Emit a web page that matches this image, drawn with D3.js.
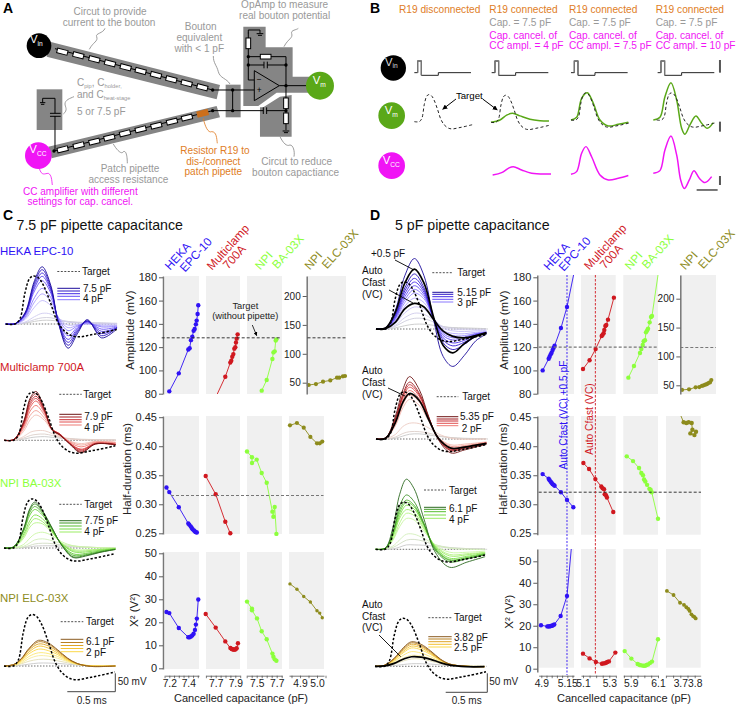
<!DOCTYPE html>
<html><head><meta charset="utf-8">
<script src="https://cdn.jsdelivr.net/npm/d3@7/dist/d3.min.js"></script>
<style>html,body{margin:0;padding:0;background:#fff}svg{display:block;font-family:"Liberation Sans",Arial,sans-serif}</style>
</head><body><div id="c"></div>
<script>
// ---------- data: dose-response dots [capacitance pF, value] ----------
const C_HEKA_AMP=[[7.2,82],[7.3,97.5],[7.4,118],[7.414,119],[7.428,126],[7.442,129],[7.456,134],[7.467,135.6],[7.48,139.6],[7.488,142.8],[7.498,148.5],[7.505,156]];
const C_HEKA_HD=[[7.17,.329],[7.2,.321],[7.3,.295],[7.4,.267],[7.41,.265],[7.425,.262],[7.435,.2595],[7.445,.257],[7.46,.255],[7.47,.253],[7.48,.252],[7.49,.2515]];
const C_HEKA_CHI=[[7.17,24.5],[7.2,24],[7.3,17.5],[7.4,13.5],[7.414,13.5],[7.428,13.8],[7.442,14.3],[7.456,15],[7.47,16.7],[7.48,19],[7.49,21.6],[7.505,29.9]];
const C_MC_AMP=[[7.69,75],[7.798,94.6],[7.849,106.7],[7.859,108.4],[7.869,111.8],[7.88,114],[7.89,118.7],[7.9,120],[7.907,124],[7.914,127.3],[7.924,131]];
const C_MC_HD=[[7.598,.3486],[7.7,.3173],[7.798,.27],[7.849,.25]];
const C_MC_CHI=[[7.598,23.6],[7.7,17.7],[7.798,11.7],[7.85,8.8],[7.863,8.4],[7.873,8.3],[7.883,8.1],[7.893,8.1],[7.903,8.3],[7.914,8.7],[7.927,10.9]];
const C_BA_AMP=[[7.55,82.6],[7.6,91.8],[7.657,109.8],[7.667,115.5],[7.68,116.4],[7.69,125.6],[7.697,126.7]];
const C_BA_HD=[[7.403,.391],[7.453,.381],[7.453,.371],[7.5,.377],[7.55,.3538],[7.6,.337],[7.657,.2873],[7.667,.2786],[7.68,.2954],[7.697,.249]];
const C_BA_CHI=[[7.403,29],[7.453,25.9],[7.453,25.2],[7.503,21.7],[7.55,16.1],[7.6,12.6],[7.657,6.4],[7.667,5],[7.68,3.9],[7.697,3.3]];
const C_ELC_AMP=[[4.841,46],[4.879,47.7],[4.916,51.7],[4.954,54],[4.989,58.7],[5.001,58.7],[5.02,61],[5.031,61.6]];
const C_ELC_HD=[[4.841,.436],[4.882,.44],[4.922,.432],[4.961,.416],[5,.405],[5.016,.405],[5.031,.408]];
const C_ELC_CHI=[[4.841,36.7],[4.882,34.4],[4.922,31.2],[4.961,28.8],[5,25],[5.016,24],[5.031,22]];
const D_HEKA_AMP=[[4.913,100],[4.971,110],[4.98,111.8],[4.99,113.8],[4.999,115.2],[5.009,117.5],[5.019,119.5],[5.028,121.3],[5.089,136.4],[5.147,154.5],[5.215,184]];
const D_HEKA_HD=[[4.913,.352],[4.971,.344],[4.98,.3416],[4.99,.339],[4.999,.337],[5.009,.3347],[5.019,.3335],[5.028,.3318],[5.089,.3208],[5.147,.3075],[5.208,.2948]];
const D_HEKA_CHI=[[4.897,20.2],[4.958,19.7],[4.97,19.7],[4.98,19.7],[4.99,19.9],[5.003,20],[5.012,20.2],[5.025,20.6],[5.086,24.5],[5.147,33.9],[5.2,62]];
const D_MC_AMP=[[5.1,101.2],[5.15,108.7],[5.196,118.4],[5.242,129.6],[5.249,130.7],[5.257,131.9],[5.262,134.7],[5.27,138.2],[5.277,139],[5.29,143.6],[5.335,162.5]];
const D_MC_HD=[[5.103,.371],[5.146,.3607],[5.194,.3434],[5.239,.3306],[5.249,.3277],[5.26,.326],[5.265,.3173],[5.275,.3156],[5.282,.3116],[5.33,.2867]];
const D_MC_CHI=[[5.1,7],[5.15,4.8],[5.198,3.1],[5.244,2.3],[5.254,2.5],[5.265,2.5],[5.275,2.8],[5.285,3.1],[5.297,3.4],[5.346,7.5]];
const D_BA_AMP=[[5.883,93.8],[5.924,103.8],[5.968,115],[5.978,118.4],[5.988,121.8],[5.995,125],[6.005,126],[6.012,132.7],[6.02,134.4],[6.027,135.9],[6.039,141.3],[6.049,145.9],[6.056,146.8],[6.11,190]];
const D_BA_HD=[[5.871,.3826],[5.917,.3744],[5.961,.3624],[5.978,.3538],[5.99,.35],[5.998,.3428],[6.007,.3393],[6.02,.3335],[6.037,.3266],[6.046,.3249],[6.054,.3208],[6.1,.2751]];
const D_BA_CHI=[[5.856,8.2],[5.905,4.7],[5.951,2.2],[5.966,1.7],[5.978,1.55],[5.993,1.4],[6.005,1.4],[6.017,1.7],[6.027,2],[6.041,2.6],[6.056,3.3],[6.1,13.7]];
const D_ELC_AMP=[[3.607,42],[3.655,43],[3.7,46.5],[3.725,47],[3.743,49],[3.755,50],[3.766,51],[3.777,52],[3.787,54],[3.798,55],[3.807,59]];
const D_ELC_HD=[[3.698,.456],[3.723,.4412],[3.742,.44],[3.758,.4412],[3.779,.44],[3.784,.4285],[3.77,.4221],[3.798,.4192],[3.809,.425]];
const D_ELC_CHI=[[3.607,36.2],[3.653,34.3],[3.698,30.7],[3.726,29.7],[3.742,28.6],[3.756,27.8],[3.765,26.9],[3.777,25.3],[3.788,24.5],[3.798,24.1],[3.807,23.4]];
const DEVICE_NAMES=[["HEKA","EPC-10"],["Multiclamp","700A"],["NPI","BA-03X"],["NPI","ELC-03X"]];
const TARGET_AMP_C=128, TARGET_HD_C=.315, TARGET_AMP_D=120, TARGET_HD_D=.3208, AUTO_D_HEKA=5.147, AUTO_D_MC=5.194;
// ---------- data: traces, time knots (ms) and voltage (mV) from light to dark ----------
const TARGET=[[0,0],[.097,0],[.149,15],[.2,84],[.247,123],[.288,131],[.34,126],[.392,106],[.462,61],[.531,11],[.6,-16],[.688,-32],[.774,-35],[.878,-30],[.983,-25],[1.156,-15]];
const T_C1=[0,.1,.2,.3,.38,.47,.55,.65,.75,.85,1,1.16];
const V_C1=[[0,0,2,7,10,10,8,6,4,3,2,1],[0,0,3,12,17,17,12,7,5,4,3,2],[0,0,5,20,29,27,14,5,3,2,2,1],[0,0,12,46,64,50,17,-3,-1,0,-2,-2],[0,1,15,60,82,62,17,-10,-3,1,-5,-4],[0,1,18,72,97,72,15,-18,-5,3,-8,-6],[0,1,22,90,118,84,10,-32,-8,5,-14,-8],[0,1,25,98,130,90,6,-42,-12,7,-20,-10],[0,1,26,105,139,95,4,-50,-16,8,-26,-10],[0,1,28,112,148,100,2,-58,-20,9,-32,-10],[0,1,30,118,156,105,2,-66,-25,12,-38,-13]];
const T_C2=[0,.1,.2,.27,.33,.42,.5,.58,.68,.8,.95,1.16];
const V_C2=[[0,0,3,7,9,10,8,6,4,2,1,1],[0,0,6,13,16,17,13,8,5,3,2,1],[0,0,10,22,26,26,18,9,4,1,1,0],[0,1,24,56,69,54,26,11,-2,-9,-3,-5],[0,1,30,68,81,60,28,13,-3,-13,-4,-6],[0,2,35,80,95,68,30,15,-5,-18,-6,-8],[0,2,40,90,107,74,30,17,-7,-24,-8,-10],[0,2,42,97,114,78,30,17,-8,-26,-9,-11],[0,2,45,103,120,80,29,16,-8,-29,-9,-12],[0,2,48,110,127,82,28,15,-9,-32,-10,-12],[0,2,50,115,133,85,28,14,-10,-34,-10,-12]];
const T_C3=[0,.1,.2,.27,.32,.4,.5,.6,.72,.85,1,1.16];
const V_C3=[[0,0,1,3,5,6,6,5,3,2,1,0],[0,0,2,7,11,13,12,8,5,3,1,0],[0,0,4,14,22,25,20,12,6,3,1,0],[0,1,9,27,38,43,34,17,6,2,1,0],[0,2,25,57,68,66,42,14,-4,-5,-3,-1],[0,2,30,66,80,72,45,12,-7,-8,-4,-2],[0,2,35,75,90,80,46,12,-10,-11,-6,-2],[0,3,42,90,105,90,50,10,-16,-15,-8,-3],[0,3,45,98,113,95,52,9,-20,-18,-10,-3],[0,3,48,104,120,99,54,8,-24,-20,-11,-4],[0,3,50,108,125,102,55,8,-26,-22,-12,-4]];
const T_C4=[0,.1,.18,.26,.36,.46,.56,.66,.76,.9,1.16];
const V_C4=[[0,0,2,5,8,8,7,5,3,1,0],[0,1,6,13,18,18,14,9,4,1,0],[0,2,8,20,28,27,21,12,5,1,0],[0,2,11,26,36,34,26,14,5,1,0],[0,3,14,33,46,42,31,16,6,0,0],[0,3,16,38,54,49,35,18,6,0,0],[0,4,18,43,60,55,39,20,7,0,0],[0,4,19,46,66,60,42,21,7,-1,0],[0,4,20,48,70,63,44,22,7,-1,0]];
const T_D1=[0,.1,.2,.3,.4,.5,.6,.7,.8,.92,1.04,1.15];
const V_D1=[[0,0,3,9,13,13,10,6,4,3,2,1],[0,0,7,21,29,28,19,7,3,1,0,0],[0,1,10,31,43,40,24,5,0,-2,-2,-2],[0,1,15,44,60,54,28,2,-5,-7,-5,-4],[0,1,22,62,84,72,30,-4,-12,-13,-9,-7],[0,2,25,72,98,82,30,-9,-18,-18,-12,-8],[0,2,28,80,108,88,30,-13,-24,-22,-13,-9],[0,2,30,88,118,94,30,-18,-30,-26,-15,-10],[0,2,34,96,128,100,29,-24,-38,-31,-16,-10],[0,2,36,104,138,106,28,-30,-46,-36,-18,-11],[0,3,40,112,150,112,28,-38,-56,-42,-20,-12],[0,3,50,145,192,145,25,-75,-102,-72,-32,-14]];
const B_D1=[[0,3,45,125,163,125,32,-45,-65,-40,-20,-12],[0,1,18,55,70,60,26,-6,-20,-24,-18,-10]];
const T_D2=[0,.1,.2,.28,.35,.45,.55,.65,.78,.92,1.15];
const V_D2=[[0,0,2,8,13,14,11,7,4,2,1],[0,0,5,15,20,20,16,9,4,1,0],[0,1,12,34,43,42,30,14,2,-1,0],[0,2,35,85,108,92,48,4,-16,-14,-8],[0,2,40,95,120,102,52,4,-20,-18,-9],[0,2,44,104,132,110,54,3,-24,-21,-10],[0,3,48,112,141,117,56,2,-28,-23,-11],[0,3,51,117,148,121,57,1,-30,-24,-12],[0,3,54,122,155,125,58,0,-32,-26,-13],[0,3,60,135,170,135,60,-2,-38,-30,-14]];
const B_D2=[[0,2,44,100,124,105,52,2,-25,-22,-12]];
const T_D3=[0,.1,.18,.25,.32,.4,.5,.62,.77,.95,1.14];
const V_D3=[[0,0,1,6,12,12,11,8,4,2,1],[0,1,5,15,25,27,22,12,5,2,0],[0,1,9,26,41,41,30,13,3,0,-1],[0,2,25,62,84,80,50,12,-8,-8,-5],[0,2,28,72,98,92,56,10,-14,-12,-8],[0,2,34,85,108,100,60,8,-18,-15,-9],[0,2,38,92,120,110,66,6,-24,-19,-11],[0,3,42,100,128,116,68,3,-28,-22,-12],[0,3,44,108,134,120,70,1,-30,-24,-14],[0,3,48,118,148,130,72,-2,-34,-26,-15],[0,3,60,150,191,165,85,-8,-49,-35,-20]];
const T_D4=[0,.1,.2,.3,.38,.48,.58,.68,.78,.95,1.14];
const V_D4=[[0,0,2,5,7,7,6,4,2,1,0],[0,1,6,15,20,20,14,8,3,0,0],[0,2,10,23,30,28,21,11,4,1,0],[0,2,13,31,40,36,26,13,5,0,-1],[0,2,16,38,50,45,32,16,5,0,-1],[0,3,18,42,55,50,35,17,5,0,-1],[0,3,20,46,60,54,38,18,6,0,-1],[0,3,21,49,64,57,40,19,6,0,-1],[0,3,22,52,67,60,42,20,6,0,-1]];
const B_D4=[[0,1,8,20,26,25,19,10,3,-1,-1]];
// panel B traces [ms, mV]
const B_G2=[[0,0],[.18,11],[.313,35],[.433,44],[.58,31],[.78,15],[.98,8],[1.16,6]];
const B_P2=[[0,-3],[.18,8],[.313,29],[.413,37],[.58,21],[.78,5],[1.167,2]];
const B_G3=[[0,0],[.113,13],[.213,105],[.327,132],[.447,81],[.58,0],[.747,-29],[.947,-21],[1.147,-11]];
const B_P3=[[0,0],[.113,13],[.213,102],[.3,134],[.413,85],[.58,-3],[.747,-27],[.947,-19],[1.147,-6]];
const B_G4=[[0,0],[.133,13],[.233,113],[.353,180],[.467,97],[.567,-40],[.633,-69],[.733,-24],[.853,19],[.967,-16],[1.08,-40],[1.2,-13]];
const B_P4=[[0,0],[.133,13],[.233,113],[.353,180],[.467,89],[.547,-32],[.62,-74],[.72,-32],[.813,13],[.92,-24],[1.033,-45],[1.167,-16]];
const COL_HEAD=[["R19 disconnected"],["R19 connected","Cap. = 7.5 pF","Cap. cancel. of","CC ampl. = 4 pF"],["R19 connected","Cap. = 7.5 pF","Cap. cancel. of","CC ampl. = 7.5 pF"],["R19 connected","Cap. = 7.5 pF","Cap. cancel. of","CC ampl. = 10 pF"]];

// ---------- colours ----------
const BLUE="#2f12f5",RED="#d0181f",LIME="#8cff3c",OLIVE="#8d8b1c",GRAY="#999",ORANGE="#e07d25",MAG="#f014f5",GREEN="#5aa818";
const RAMP_B=["#c8c8c8","#dcd8ff","#8a78ff","#3a1cf0","#1c0c9c"],RAMP_R=["#c8c8c8","#f8dcd0","#f07a70","#d8202a","#6e1414"],RAMP_G=["#c8c8c8","#e0ffc0","#9cf05c","#50c828","#2c6a20"],RAMP_O=["#c8c8c8","#fff8a8","#ffdc3c","#eaa820","#8a5a20"];

const W=738,H=705;
const svg=d3.select("#c").append("svg").attr("width",W).attr("height",H).attr("viewBox",[0,0,W,H]);
const defs=svg.append("defs");
function txt(g,x,y,s,o={}){const t=g.append("text").attr("x",x).attr("y",y).attr("dy",".35em").attr("font-size",o.size||11).attr("fill",o.fill||"#222").attr("text-anchor",o.anchor||"start").text(s);
 if(o.weight)t.attr("font-weight",o.weight);if(o.rotate!=null)t.attr("transform",`rotate(${o.rotate} ${x} ${y})`);return t;}
function subtxt(g,x,y,parts,o={}){const t=g.append("text").attr("x",x).attr("y",y).attr("dy",".35em").attr("font-size",parts[0][1]).attr("fill",o.fill||GRAY).attr("text-anchor",o.anchor||"start");
 parts.forEach(p=>t.append("tspan").attr("font-size",p[1]).attr("dy",p[2]||0).text(p[0]));return t;}
function seg(g,x1,y1,x2,y2,c="#000",w=1,dash){const l=g.append("line").attr("x1",x1).attr("y1",y1).attr("x2",x2).attr("y2",y2).attr("stroke",c).attr("stroke-width",w);if(dash)l.attr("stroke-dasharray",dash);return l;}
defs.append("marker").attr("id","ah").attr("viewBox","0 0 6 6").attr("refX",5.5).attr("refY",3).attr("markerWidth",5).attr("markerHeight",5).attr("orient","auto").append("path").attr("d","M0,0L6,3L0,6z").attr("fill","#000");

// ---------- Panel A (drawn at 3x units) ----------
const A=svg.append("g").attr("transform","scale(0.3333)");
txt(svg,3,8,"A",{size:14,weight:"bold",fill:"#000"});
const poly=(g,pts,f)=>g.append("polygon").attr("points",pts.join(" ")).attr("fill",f);
poly(A,[[150,125],[660,255],[650,298],[140,170]],"#858585");
poly(A,[[145,440],[650,318],[660,352],[155,475]],"#858585");
A.append("rect").attr("x",110).attr("y",268).attr("width",77).attr("height",122).attr("fill","#858585");
A.append("rect").attr("x",677).attr("y",254).attr("width",45).attr("height",98).attr("fill","#858585");
poly(A,[[730,80],[797,80],[797,142],[878,142],[878,230],[930,230],[930,278],[830,278],[775,318],[730,318]],"#858585");
poly(A,[[780,410],[875,410],[875,285],[840,290],[790,322],[780,322]],"#858585");
const RTOP=[[187,155],[235,166],[283,178],[330,190],[377,202],[422,213],[468,225],[514,238],[560,250],[607,262]];
const RBOT=[[188,448],[236,436],[283,425],[328,413],[375,400],[422,388],[469,377],[516,365],[561,353]];
const res=(g,c,rot,f="#fff",w=32,h=14)=>g.append("rect").attr("x",c[0]-w/2).attr("y",c[1]-h/2).attr("width",w).attr("height",h).attr("fill",f).attr("stroke",f=="#fff"?"#000":f).attr("stroke-width",3).attr("transform",`rotate(${rot} ${c[0]} ${c[1]})`);
const wire=(pts,w=3)=>A.append("polyline").attr("points",pts.join(" ")).attr("fill","none").attr("stroke","#000").attr("stroke-width",w);
wire([[165,146],[638,270],[763,270]]);
wire([[162,453],[638,332],[790,332]]);wire([[800,332],[858,332]]);
wire([[698,270],[698,332]]);
RTOP.forEach(c=>res(A,c,14.5));RBOT.forEach(c=>res(A,c,-14));res(A,[608,340],-14,"#cc6f1c",32,16);
wire([[165,453],[165,348]]);wire([[165,340],[165,295],[128,295],[128,308]]);
wire([[150,340],[182,340]]);wire([[150,349],[182,349]]);
wire([[120,308],[136,308]]);wire([[123,313],[133,313]]);
wire([[838,257],[920,257]]);wire([[858,170],[858,390]]);
wire([[745,98],[745,240],[763,240]]);wire([[745,90],[780,90],[780,100]]);wire([[745,90],[745,100]]);
wire([[770,101],[790,101]]);wire([[774,106],[786,106]]);
wire([[745,170],[858,170]]);wire([[745,195],[792,195]]);wire([[802,195],[858,195]]);
wire([[792,185],[792,205]]);wire([[802,185],[802,205]]);
wire([[790,322],[790,342]]);wire([[800,322],[800,342]]);
wire([[848,393],[868,393]]);wire([[852,398],[864,398]]);
A.append("polygon").attr("points","763,212 763,302 838,257").attr("fill","#858585").attr("stroke","#000").attr("stroke-width",3);
txt(A,778,238,"−",{size:25,anchor:"middle",fill:"#000"});txt(A,778,270,"+",{size:25,anchor:"middle",fill:"#000"});
res(A,[745,130],90);res(A,[797,170],0);res(A,[858,310],90);res(A,[858,355],90);
[[638,270],[698,270],[638,332],[698,332],[162,453],[745,170],[745,195],[858,195],[858,257],[858,332]].forEach(c=>A.append("circle").attr("cx",c[0]).attr("cy",c[1]).attr("r",5).attr("fill","#000"));
const disc=(g,x,y,r,f)=>g.append("circle").attr("cx",x).attr("cy",y).attr("r",r).attr("fill",f);
disc(A,117,137,37,"#000");disc(A,115,467,40,MAG);disc(A,960,257,42,GREEN);
subtxt(A,90,130,[["V",34],["in",20,8]],{fill:"#fff"});subtxt(A,88,460,[["V",34],["CC",20,8]],{fill:"#fff"});subtxt(A,938,252,[["V",34],["m",20,8]],{fill:"#fff"});
const squig=(d,c="#888")=>A.append("path").attr("d",d).attr("fill","none").attr("stroke",c).attr("stroke-width",2.5);
squig("M268,148C280,125 295,125 290,110C285,100 310,100 315,85");
squig("M852,140C865,115 880,115 875,100C872,90 890,90 895,85");
squig("M690,252C680,235 660,235 655,215C650,195 640,190 640,168");
squig("M190,342C205,330 195,320 195,312C195,300 210,295 222,290");
squig("M340,432C350,450 365,465 370,455C380,450 382,475 382,490");
squig("M840,410C850,430 860,440 870,435C880,435 885,455 882,470");
squig("M610,355C615,380 625,400 635,395C650,395 650,415 652,430",ORANGE);
squig("M118,505C125,530 135,520 145,520C155,525 155,540 157,555",MAG);
const AT=[["Circut to provide",330,35,GRAY],["current to the bouton",327,66,GRAY],["OpAmp to measure",854,14,GRAY],["real bouton potential",854,47,GRAY],["Bouton",602,80,GRAY],["equivalent",598,112,GRAY],["with < 1 pF",598,144,GRAY],["Patch pipette",390,505,GRAY],["access resistance",385,537,GRAY],["Resistor R19 to",645,450,ORANGE],["dis-/connect",640,483,ORANGE],["patch pipette",640,515,ORANGE],["Circut to reduce",890,485,GRAY],["bouton capactiance",887,517,GRAY],["CC amplifier with different",241,575,MAG],["settings for cap. cancel.",241,605,MAG]];
AT.forEach(a=>txt(A,a[1],a[2],a[0],{size:30.2,fill:a[3],anchor:"middle"}));
subtxt(A,231,258,[["C",30],["pip",17,7],[", ",30,-7],["C",30],["holder",17,7],[",",17]]);
subtxt(A,231,293,[["and C",30],["heat-stage",17,7]]);
txt(A,231,335,"5 or 7.5 pF",{size:30.2,fill:GRAY});

// ---------- Panel B (3x units, offset to x=370) ----------
const B=svg.append("g").attr("transform","translate(370,0) scale(0.3333)");
txt(svg,370,8,"B",{size:14,weight:"bold",fill:"#000"});
const HX=[87,358,597,857],HY=[28,67,105,135],HC=[ORANGE,GRAY,MAG,MAG];
COL_HEAD.forEach((c,i)=>c.forEach((s,j)=>txt(B,HX[i],HY[j],s,{size:30.5,fill:HC[j]})));
disc(B,70,204,38,"#000");disc(B,65,347,40,GREEN);disc(B,65,497,40,MAG);
subtxt(B,45,197,[["V",34],["in",20,8]],{fill:"#ddd"});subtxt(B,44,342,[["V",34],["m",20,8]],{fill:"#fff"});subtxt(B,38,492,[["V",34],["CC",20,8]],{fill:"#fff"});
const VX=[0,232,470,730];
VX.forEach(dx=>{B.append("polyline").attr("points",[[133,218],[143,218],[143,183],[154,183],[154,226],[205,226],[205,218],[303,218]].map(p=>[p[0]+dx,p[1]]).join(" ")).attr("fill","none").attr("stroke","#222").attr("stroke-width",3);
 B.append("polyline").attr("points",[[143,218],[143,183],[154,183],[154,226]].map(p=>[p[0]+dx,p[1]]).join(" ")).attr("fill","none").attr("stroke","#777").attr("stroke-width",4);});
const tr=(g,d,x0,base,px,py,c,w,dash)=>{const x=d3.scaleLinear([0,1],[x0,x0+px]),y=d3.scaleLinear([0,1],[base,base-py]);
 const p=g.append("path").datum(d).attr("d",d3.line().x(v=>x(v[0])).y(v=>y(v[1])).curve(d3.curveCatmullRom.alpha(.5))).attr("fill","none").attr("stroke",c).attr("stroke-width",w);if(dash)p.attr("stroke-dasharray",dash);return p;};
tr(B,B_G2,363,367,150,.62,GREEN,4.5);tr(B,B_G3,603,360,150,.62,GREEN,4.5);tr(B,B_G4,850,360,150,.62,GREEN,4.5);
[[133,365],[363,367],[603,360],[860,360]].forEach(a=>tr(B,TARGET,a[0],a[1],150,.62,"#222",3,"9,7"));
tr(B,B_P2,368,523,150,.62,MAG,4.5);tr(B,B_P3,603,523,150,.62,MAG,4.5);tr(B,B_P4,850,520,150,.62,MAG,4.5);
txt(B,298,287,"Target",{size:29,anchor:"middle",fill:"#000"});
seg(B,258,297,218,328,"#000",3).attr("marker-end","url(#ah)");seg(B,338,297,382,330,"#000",3).attr("marker-end","url(#ah)");
seg(B,1050,180,1050,218,"#555",6);seg(B,1050,365,1050,395,"#555",6);seg(B,1050,528,1050,555,"#555",6);seg(B,980,570,1043,570,"#333",4);

// ---------- Headings ----------
txt(svg,3,215,"C",{size:14,weight:"bold",fill:"#000"});txt(svg,16.5,225.5,"7.5 pF pipette capacitance",{size:14.2,fill:"#111"});
txt(svg,370,215,"D",{size:14,weight:"bold",fill:"#000"});txt(svg,395,225.5,"5 pF pipette capacitance",{size:14.2,fill:"#111"});

// ---------- trace panels ----------
function traces(o){
 const g=svg.append("g");const x=d3.scaleLinear([0,1.16],[o.x0,o.x0+1.16*96]),y=d3.scaleLinear([0,100],[o.base,o.base-36.7]);
 const line=d3.line().x(d=>x(d[0])).y(d=>y(d[1])).curve(d3.curveCatmullRom.alpha(.5));
 const ramp=d3.interpolateRgbBasis(o.ramp),n=o.vals.length;
 seg(g,x(0),y(0),x(1.16),y(0),"#333",.7,"1.5,1.5");
 o.vals.forEach((v,i)=>g.append("path").datum(v.map((m,k)=>[o.T[k],m])).attr("d",line).attr("fill","none").attr("stroke",ramp(i/(n-1))).attr("stroke-width",.9));
 (o.black||[]).forEach(v=>g.append("path").datum(v.map((m,k)=>[o.T[k],m])).attr("d",line).attr("fill","none").attr("stroke","#000").attr("stroke-width",1.7));
 g.append("path").datum(TARGET.map(d=>[d[0],d[1]*(o.gain||1)])).attr("d",line).attr("fill","none").attr("stroke","#000").attr("stroke-width",1.5).attr("stroke-dasharray","2.4,1.8");
 // legend
 seg(g,o.lx0,o.ty,o.lx1,o.ty,"#222",.8,"2,1.5");txt(g,o.ttx,o.ty,"Target",{size:10,fill:"#111"});
 o.ly.forEach((ly,i)=>seg(g,o.lx0,ly,o.lx1,ly,ramp(1-i/(o.ly.length+1)*.75),1));
 txt(g,o.vx,o.v1y,o.v1,{size:10,fill:"#111"});txt(g,o.vx2||o.vx,o.v2y,o.v2,{size:10,fill:"#111"});
}
traces({x0:5.7,base:324,T:T_C1,vals:V_C1,ramp:RAMP_B,lx0:57.3,lx1:80,ty:271.5,ttx:82,ly:[288.3,291,293.7,296.3,299.7],vx:83,v1:"7.5 pF",v1y:288,v2:"4 pF",v2y:298});
traces({x0:4.3,base:440.3,T:T_C2,vals:V_C2,ramp:RAMP_R,lx0:59.3,lx1:81.7,ty:394.3,ttx:83.3,ly:[414.3,417,419.7,422,425],vx:84.3,v1:"7.9 pF",v1y:416.7,v2:"4 pF",v2y:427});
traces({x0:4,base:548,T:T_C3,vals:V_C3,ramp:RAMP_G,lx0:59.3,lx1:81.7,ty:504.3,ttx:84.3,ly:[520.7,523,526,529,532],vx:84.3,v1:"7.75 pF",v1y:520.7,v2:"4 pF",v2y:531,gain:1.02});
traces({x0:4,base:666,T:T_C4,vals:V_C4,ramp:RAMP_O,lx0:60.7,lx1:83.3,ty:621.7,ttx:86,ly:[639.3,642.5,645.5,648.5,651.7],vx:86,v1:"6.1 pF",v1y:641.7,v2:"2 pF",v2y:652.3,gain:1.07});
traces({x0:376,base:329,T:T_D1,vals:V_D1,black:B_D1,ramp:RAMP_B,lx0:432.3,lx1:453.3,ty:272.7,ttx:457.3,ly:[292.3,294.3,296.7,299.3,302],vx:457.3,v1:"5.15 pF",v1y:292.3,v2:"3 pF",v2y:302,gain:.98});
traces({x0:376,base:439,T:T_D2,vals:V_D2,black:B_D2,ramp:RAMP_R,lx0:436.7,lx1:458.3,ty:396.7,ttx:462.3,ly:[416.7,419,421,423.3,425.7],vx:460,vx2:461.7,v1:"5.35 pF",v1y:416.7,v2:"2 pF",v2y:428.3,gain:.98});
traces({x0:375.7,base:549.3,T:T_D3,vals:V_D3,ramp:RAMP_G,lx0:424,lx1:446,ty:490,ttx:449,ly:[507.3,509.3,511.7,515,518.3],vx:449,v1:"6.1 pF",v1y:508.3,v2:"4 pF",v2y:519.3,gain:.98});
traces({x0:375,base:666.3,T:T_D4,vals:V_D4,black:B_D4,ramp:RAMP_O,lx0:428.3,lx1:451.7,ty:617.7,ttx:454,ly:[636.7,639,641.7,644.3,647],vx:454,v1:"3.82 pF",v1y:637.7,v2:"2.5 pF",v2y:647.7});
// annotations on traces
txt(svg,371,253.3,"+0.5 pF",{size:10,fill:"#111"});seg(svg,395,260,414,270,"#000",.9);
[[270.7,282.7,294.3],[370.7,382.7,394.3],[604,616,627.7]].forEach(r=>{["Auto","Cfast","(VC)"].forEach((s,i)=>txt(svg,362,r[i],s,{size:10,fill:"#111"}));});
seg(svg,389,290,413,303,"#000",.9);seg(svg,388,388,405,396,"#000",.9);seg(svg,379,635,400.7,656.7,"#000",.9);
// scale bars
seg(svg,67.3,691.7,115.3,691.7,"#444",1);seg(svg,115.3,673.3,115.3,691.7,"#444",1);txt(svg,117.7,681.7,"50 mV",{size:10});txt(svg,91.7,700,"0.5 ms",{size:10,anchor:"middle"});
seg(svg,445.7,692.3,487.3,692.3,"#444",1);seg(svg,487.3,673.3,487.3,692.3,"#444",1);txt(svg,489.3,681.7,"50 mV",{size:10});txt(svg,466.7,700.5,"0.5 ms",{size:10,anchor:"middle"});

// ---------- dot panels ----------
let cid=0;
function dots(o){
 const g=svg.append("g"),[rx0,rx1]=o.rx,[ry0,ry1]=o.ry;
 g.append("rect").attr("x",rx0).attr("y",ry0).attr("width",rx1-rx0).attr("height",ry1-ry0).attr("fill","#f0f0f0");
 const x=d3.scaleLinear(o.xd,o.xr),y=d3.scaleLinear(o.yd,o.yr);const id="cl"+(cid++);
 defs.append("clipPath").attr("id",id).append("rect").attr("x",rx0-3).attr("y",ry0).attr("width",rx1-rx0+6).attr("height",ry1-ry0);
 g.append("path").datum(o.pts).attr("d",d3.line().x(d=>x(d[0])).y(d=>y(d[1]))).attr("fill","none").attr("stroke",o.color).attr("stroke-width",.9).attr("clip-path",`url(#${id})`);
 g.selectAll("circle").data(o.pts.filter(d=>y(d[1])>=ry0-1&&y(d[1])<=ry1+1)).join("circle").attr("cx",d=>x(d[0])).attr("cy",d=>y(d[1])).attr("r",o.r||2.1).attr("fill",o.color);
 return o;
}
function yAxis(ax,x,yd,yr,ry,ticks,fmt,size,col){
 const y=d3.scaleLinear(yd,yr);const full=y.copy().domain([y.invert(ry[1]),y.invert(ry[0])]).range([ry[1],ry[0]]);
 const g=svg.append("g").attr("transform",`translate(${x},0)`).call(d3.axisLeft(full).tickValues(ticks).tickFormat(fmt).tickSize(4).tickPadding(2).tickSizeOuter(0));
 g.select(".domain").attr("stroke","#777").attr("stroke-width",1.5);g.selectAll(".tick line").attr("stroke","#333").attr("stroke-width",.8);
 g.selectAll("text").attr("font-size",size).attr("font-family","inherit").attr("fill","#222");
}
function xAxis(rx,xd,xr,major,minor,y0){
 const x=d3.scaleLinear(xd,xr);const full=x.copy().domain([x.invert(rx[0]),x.invert(rx[1])]).range(rx);
 const g=svg.append("g").attr("transform",`translate(0,${y0})`).call(d3.axisBottom(full).tickValues(minor.concat(major)).tickFormat(v=>major.includes(v)?(v==5.15?"5.15":v.toFixed(1)):"").tickSize(2.5).tickPadding(1.5).tickSizeOuter(0));
 g.select(".domain").attr("stroke","#777").attr("stroke-width",1);g.selectAll(".tick line").attr("stroke","#444").attr("stroke-width",.7);
 g.selectAll("text").attr("font-size",10.3).attr("font-family","inherit").attr("fill","#222");
}
const AMP_Y=[[80,180],[393.7,277.3]],CHI_C=[[0,50],[668.3,553.3]],CHI_D=[[0,50],[668.7,561.3]],HD_Y=[[.25,.45],[533.3,417.2]];
const CC=[
 {c:BLUE,xd:[7.2,7.4],xr:[169.3,188.3],rx:[165,199],a:C_HEKA_AMP,h:C_HEKA_HD,k:C_HEKA_CHI,maj:[7.2,7.4],min:[7.15,7.25,7.3,7.35,7.45,7.5]},
 {c:RED,xd:[7.7,7.9],xr:[215.7,235.3],rx:[206,240],a:C_MC_AMP,h:C_MC_HD,k:C_MC_CHI,maj:[7.7,7.9],min:[7.6,7.65,7.75,7.8,7.85,7.95]},
 {c:LIME,xd:[7.5,7.7],xr:[256.7,276.7],rx:[247,282],a:C_BA_AMP,h:C_BA_HD,k:C_BA_CHI,maj:[7.5,7.7],min:[7.4,7.45,7.55,7.6,7.65,7.75]},
 {c:OLIVE,xd:[4.9,5.0],xr:[300,317],rx:[289,324],h:C_ELC_HD,k:C_ELC_CHI,maj:[4.9,5.0],min:[4.85,4.95,5.05]}];
CC.forEach((d,i)=>{
 if(i<3)dots({rx:d.rx,ry:[276,394],xd:d.xd,xr:d.xr,yd:AMP_Y[0],yr:AMP_Y[1],pts:d.a,color:d.c,r:2.2});
 dots({rx:d.rx,ry:[416,534],xd:d.xd,xr:d.xr,yd:HD_Y[0],yr:HD_Y[1],pts:d.h,color:d.c,r:i==3?2.1:2.2});
 dots({rx:d.rx,ry:[552,669],xd:d.xd,xr:d.xr,yd:CHI_C[0],yr:CHI_C[1],pts:d.k,color:d.c,r:i==3?1.7:2.2});
 xAxis(d.rx,d.xd,d.xr,d.maj,d.min,675.7);
});
dots({rx:[307.5,346],ry:[276,394],xd:[4.841,5.031],xr:[308.7,345],yd:[50,200],yr:[382.7,296],pts:C_ELC_AMP,color:OLIVE,r:2.1});
yAxis(0,163,AMP_Y[0],AMP_Y[1],[276,394],[80,100,120,140,160,180],d3.format("d"),11);
yAxis(0,163,HD_Y[0],HD_Y[1],[416,534],[.25,.3,.35,.4,.45],d3.format(".2f"),11);
yAxis(0,163,CHI_C[0],CHI_C[1],[552,669],[0,10,20,30,40,50],d3.format("d"),11);
yAxis(0,306.7,[50,200],[382.7,296],[276,394],[50,100,150,200],d3.format("d"),10);
const tg=svg.append("g");
const cy=d3.scaleLinear(AMP_Y[0],AMP_Y[1]),ch=d3.scaleLinear(HD_Y[0],HD_Y[1]);
seg(tg,161.7,cy(TARGET_AMP_C),281.7,cy(TARGET_AMP_C),"#222",.9,"3,2");seg(tg,307.5,cy(TARGET_AMP_C),346,cy(TARGET_AMP_C),"#222",.9,"3,2");
seg(tg,171,ch(TARGET_HD_C),323.5,ch(TARGET_HD_C),"#777",1.1,"3,2");
txt(tg,245.3,305.7,"Target",{size:9.3,anchor:"middle"});txt(tg,245.3,316,"(without pipette)",{size:9.3,anchor:"middle"});
seg(tg,252.3,325,256.7,335.7,"#000",.8).attr("marker-end","url(#ah)");

const DD=[
 {c:BLUE,xd:[4.9,5.15],xr:[541.3,567.3],rx:[538.7,574],a:D_HEKA_AMP,h:D_HEKA_HD,k:D_HEKA_CHI,maj:[4.9,5.15],min:[4.95,5,5.05,5.1,5.2]},
 {c:RED,xd:[5.1,5.3],xr:[583,609.3],rx:[581,615.7],a:D_MC_AMP,h:D_MC_HD,k:D_MC_CHI,maj:[5.1,5.3],min:[5.15,5.2,5.25,5.35]},
 {c:LIME,xd:[5.9,6.1],xr:[630.7,658],rx:[623.3,658],a:D_BA_AMP,h:D_BA_HD,k:D_BA_CHI,maj:[5.9,6.1],min:[5.85,5.95,6,6.05]},
 {c:OLIVE,xd:[3.7,3.8],xr:[680.3,694.7],rx:[666,700.7],h:D_ELC_HD,k:D_ELC_CHI,maj:[3.7,3.8],min:[3.6,3.65,3.75]}];
DD.forEach((d,i)=>{
 if(i<3)dots({rx:d.rx,ry:[275,394],xd:d.xd,xr:d.xr,yd:AMP_Y[0],yr:AMP_Y[1],pts:d.a,color:d.c,r:2.2});
 dots({rx:d.rx,ry:[416,534.7],xd:d.xd,xr:d.xr,yd:HD_Y[0],yr:HD_Y[1],pts:d.h,color:d.c,r:2.2});
 dots({rx:d.rx,ry:[549,667.7],xd:d.xd,xr:d.xr,yd:CHI_D[0],yr:CHI_D[1],pts:d.k,color:d.c,r:i==3?1.9:2.2});
 xAxis(d.rx,d.xd,d.xr,d.maj,d.min,675.7);
});
dots({rx:[680.3,716],ry:[275,394],xd:[3.607,3.807],xr:[682,711.3],yd:[50,200],yr:[385.3,298.7],pts:D_ELC_AMP,color:OLIVE,r:2.1});
yAxis(0,537.3,AMP_Y[0],AMP_Y[1],[275,394],[80,100,120,140,160,180],d3.format("d"),11);
yAxis(0,537.3,HD_Y[0],HD_Y[1],[416,534.7],[.25,.3,.35,.4,.45],d3.format(".2f"),11);
yAxis(0,537.3,CHI_D[0],CHI_D[1],[549,672],[0,10,20,30,40,50],d3.format("d"),11);
yAxis(0,680.3,[50,200],[385.3,298.7],[275,394],[50,100,150,200],d3.format("d"),10);
const tg2=svg.append("g");
seg(tg2,538.7,cy(TARGET_AMP_D),658,cy(TARGET_AMP_D),"#777",1.1,"3,2");seg(tg2,680.3,cy(TARGET_AMP_D)+.3,716,cy(TARGET_AMP_D)+.3,"#777",1.1,"3,2");
seg(tg2,538.7,ch(TARGET_HD_D),701,ch(TARGET_HD_D),"#222",.9,"3,2");
const dxh=d3.scaleLinear(DD[0].xd,DD[0].xr),dxm=d3.scaleLinear(DD[1].xd,DD[1].xr);
seg(tg2,dxh(AUTO_D_HEKA),275,dxh(AUTO_D_HEKA),675,BLUE,.9,"2,1.5");seg(tg2,dxm(AUTO_D_MC),275,dxm(AUTO_D_MC),675,RED,.9,"2.5,1.5");
txt(tg2,563,415,"Auto Cfast (VC) +0.5 pF",{size:10.2,fill:BLUE,rotate:-90,anchor:"middle"});
txt(tg2,589.5,419,"Auto Cfast (VC)",{size:10.2,fill:RED,rotate:-90,anchor:"middle"});

// axis titles
[[129.5,330,"Amplitude (mV)"],[127,469,"Half-duration (ms)"],[134,610,"Χ² (V²)"],[504,330,"Amplitude (mV)"],[503,469,"Half-duration (ms)"],[509,611.7,"Χ² (V²)"]].forEach(a=>txt(svg,a[0],a[1],a[2],{size:11.5,rotate:-90,anchor:"middle"}));
txt(svg,241,698,"Cancelled capacitance (pF)",{size:11,anchor:"middle"});txt(svg,624,698,"Cancelled capacitance (pF)",{size:11,anchor:"middle"});

// device titles
const names=[[0,251,"HEKA EPC-10",BLUE],[0,367.3,"Multiclamp 700A",RED],[0,483.3,"NPI BA-03X",LIME],[0,598.3,"NPI ELC-03X",OLIVE]];
names.forEach(n=>txt(svg,n[0],n[1],n[2],{size:11.4,fill:n[3]}));
const ROT=[[[167,268],[182,270]],[[209,268],[225,267]],[[257.3,267.7],[274.3,266.7]],[[306.7,267.7],[324,266.7]]];
const ROTD=[[[545.7,268.3],[560.7,269.3]],[[586.3,267.7],[602,266.7]],[[627,267.7],[644,266.7]],[[682.3,267.7],[700.3,266.7]]];
const DC=[BLUE,RED,LIME,OLIVE];
[ROT,ROTD].forEach(R=>R.forEach((r,i)=>r.forEach((p,j)=>txt(svg,p[0],p[1],DEVICE_NAMES[i][j],{size:11.8,fill:DC[i],rotate:-48}))));
</script></body></html>
